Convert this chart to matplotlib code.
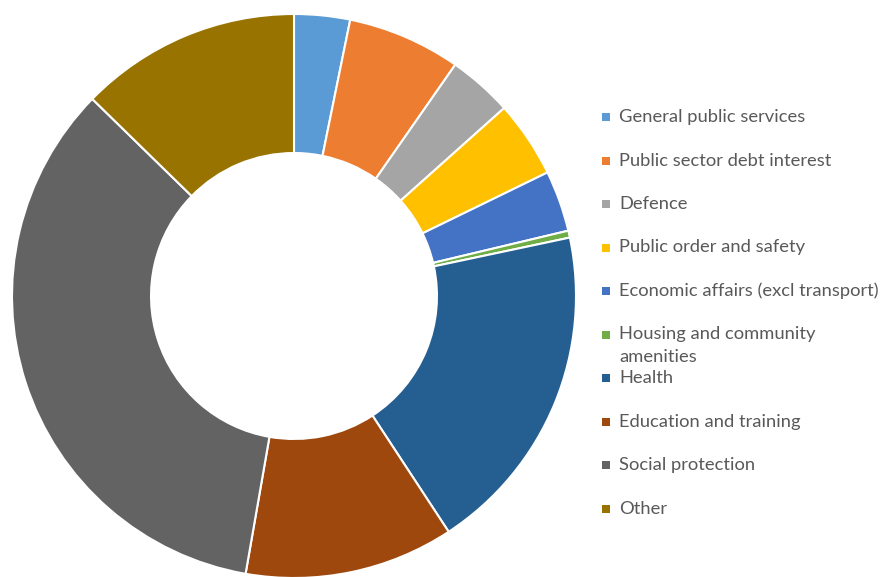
import matplotlib
matplotlib.use("Agg")
from matplotlib import pyplot as plt
from matplotlib.patches import Rectangle

# Spending shares by function (percent of total)
categories = [
    "General public services",
    "Public sector debt interest",
    "Defence",
    "Public order and safety",
    "Economic affairs (excl transport)",
    "Housing and community\namenities",
    "Health",
    "Education and training",
    "Social protection",
    "Other",
]
shares = [3.2, 6.5, 3.7, 4.4, 3.5, 0.4, 19.1, 12.0, 34.6, 12.7]
colours = ["#5B9BD5", "#ED7D31", "#A5A5A5", "#FFC000", "#4472C4",
           "#70AD47", "#255E91", "#9E480E", "#636363", "#997300"]

W, H = 882, 577
fig = plt.figure(figsize=(W / 100, H / 100), dpi=100)

# donut: centre (294, 296) px, outer radius 282 px
cx, cy, R = 294, 296, 282
ax = fig.add_axes([(cx - R) / W, (H - cy - R) / H, 2 * R / W, 2 * R / H])
ax.pie(shares, colors=colours, startangle=90, counterclock=False, radius=1,
       wedgeprops=dict(width=0.493, edgecolor="white", linewidth=1.5))
ax.set_xlim(-1, 1)
ax.set_ylim(-1, 1)
ax.axis("off")

# legend drawn by hand so the wrapped label doesn't push the rows apart
y0, step, line_h = 117, 43.5, 23
for i, (name, col) in enumerate(zip(categories, colours)):
    y = y0 + i * step
    fig.patches.append(Rectangle(((606 - 4) / W, 1 - (y + 4) / H), 8 / W, 8 / H,
                                 transform=fig.transFigure, facecolor=col,
                                 edgecolor="none"))
    for k, line in enumerate(name.split("\n")):
        fig.text(619 / W, 1 - (y + k * line_h) / H, line, fontsize=13.2,
                 family="Lato", color="#595959", va="center")

plt.savefig("out.png", dpi=100)
